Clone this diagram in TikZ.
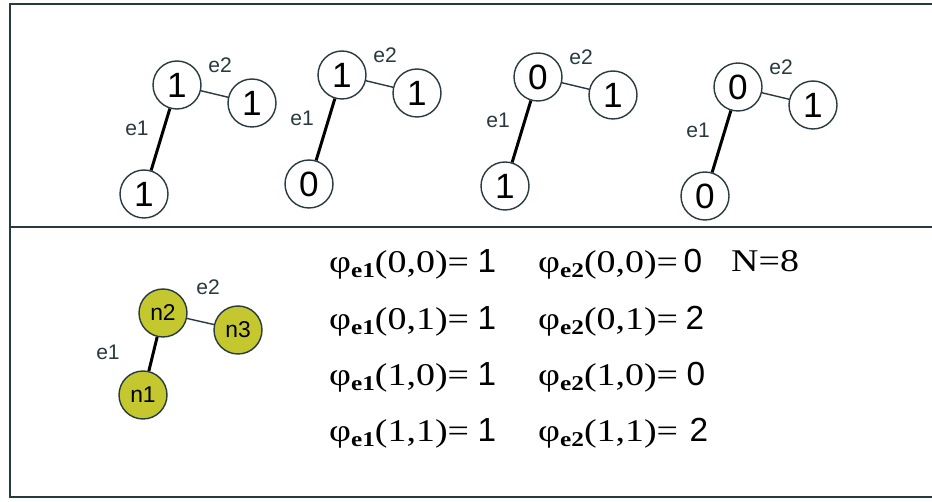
\documentclass[tikz,border=0pt]{standalone}
\usepackage{fontspec}
\setmainfont{Liberation Serif}
\setsansfont{Liberation Sans}
\newfontfamily\wideserif[FakeStretch=1.2]{Liberation Serif}
\usetikzlibrary{positioning}
\definecolor{rimgray}{RGB}{40,58,64}
\definecolor{nodegreen}{RGB}{196,200,46}
\newcommand{\phiof}[2]{φ\raisebox{-0.3ex}{\fontsize{12}{12}\selectfont\bfseries #1}(#2)=}
\tikzset{
  valnode/.style={circle, draw=rimgray, line width=0.8pt, minimum size=0.96cm, inner sep=0pt,
    font=\sffamily\fontsize{20}{20}\selectfont},
  colnode/.style={valnode, fill=nodegreen, font=\sffamily\fontsize{13}{13}\selectfont},
  elabel/.style={font=\sffamily\fontsize{12}{12}\selectfont, text=rimgray},
  heavy/.style={line width=1.7pt},
  light/.style={line width=0.8pt, draw=rimgray},
  formula/.style={anchor=base west, font=\wideserif\fontsize{18}{18}\selectfont},
  result/.style={anchor=base, font=\sffamily\fontsize{19}{19}\selectfont},
}

\begin{document}
\begin{tikzpicture}[x=0.02cm, y=-0.02cm]
    \useasboundingbox (0,0) rectangle (932,502);
    % frame and divider
    \draw[rimgray, line width=1.6pt] (932,4) -- (10,4) -- (10,497) -- (932,497);
    \draw[rimgray, line width=1.1pt] (10,227) -- (932,227);
    % the four labelled graphs
    \foreach \i/\tx/\ty/\vt/\vr/\vb in {1/177/85/1/1/1, 2/342/75/1/1/0, 3/538/77/0/1/1, 4/738/87/0/1/0}{
      \begin{scope}[shift={(\tx,\ty)}]
        \node[valnode] (t\i) at (0,0) {\vt};
        \node[valnode] (r\i) at (75,18) {\vr};
        \node[valnode] (b\i) at (-33,109) {\vb};
        \node[elabel] (ltop\i) at (43,-20) {e2};
        \node[elabel] (lbot\i) at (-40,43) {e1};
        \draw[heavy] (t\i) -- (b\i);
        \draw[light] (t\i) -- (r\i);
      \end{scope}
    }
    % the plain graph
    \node[colnode] (n2) at (163,313) {n2};
    \node[colnode] (n3) at (238,330) {n3};
    \node[colnode] (n1) at (143,395) {n1};
    \node[elabel] (le2) at (208,287) {e2};
    \node[elabel] (le1) at (108,352) {e1};
    \draw[heavy] (n2) -- (n1);
    \draw[light] (n2) -- (n3);
    % potentials
    \node[formula] (fa1) at (323,273) {\phiof{e1}{0,0}};
    \node[formula] (fa2) at (323,330) {\phiof{e1}{0,1}};
    \node[formula] (fa3) at (323,386) {\phiof{e1}{1,0}};
    \node[formula] (fa4) at (323,442) {\phiof{e1}{1,1}};
    \node[result] (va1) at (487,273) {1};
    \node[result] (va2) at (487,330) {1};
    \node[result] (va3) at (487,386) {1};
    \node[result] (va4) at (487,442) {1};
    \node[formula] (fb1) at (532,273) {\phiof{e2}{0,0}};
    \node[formula] (fb2) at (532,330) {\phiof{e2}{0,1}};
    \node[formula] (fb3) at (532,386) {\phiof{e2}{1,0}};
    \node[formula] (fb4) at (532,442) {\phiof{e2}{1,1}};
    \node[result] (vb1) at (693,273) {0};
    \node[result] (vb2) at (695,330) {2};
    \node[result] (vb3) at (696,386) {0};
    \node[result] (vb4) at (699,442) {2};
    \node[formula] (count) at (725,272) {N=8};
  \end{tikzpicture}
\end{document}
